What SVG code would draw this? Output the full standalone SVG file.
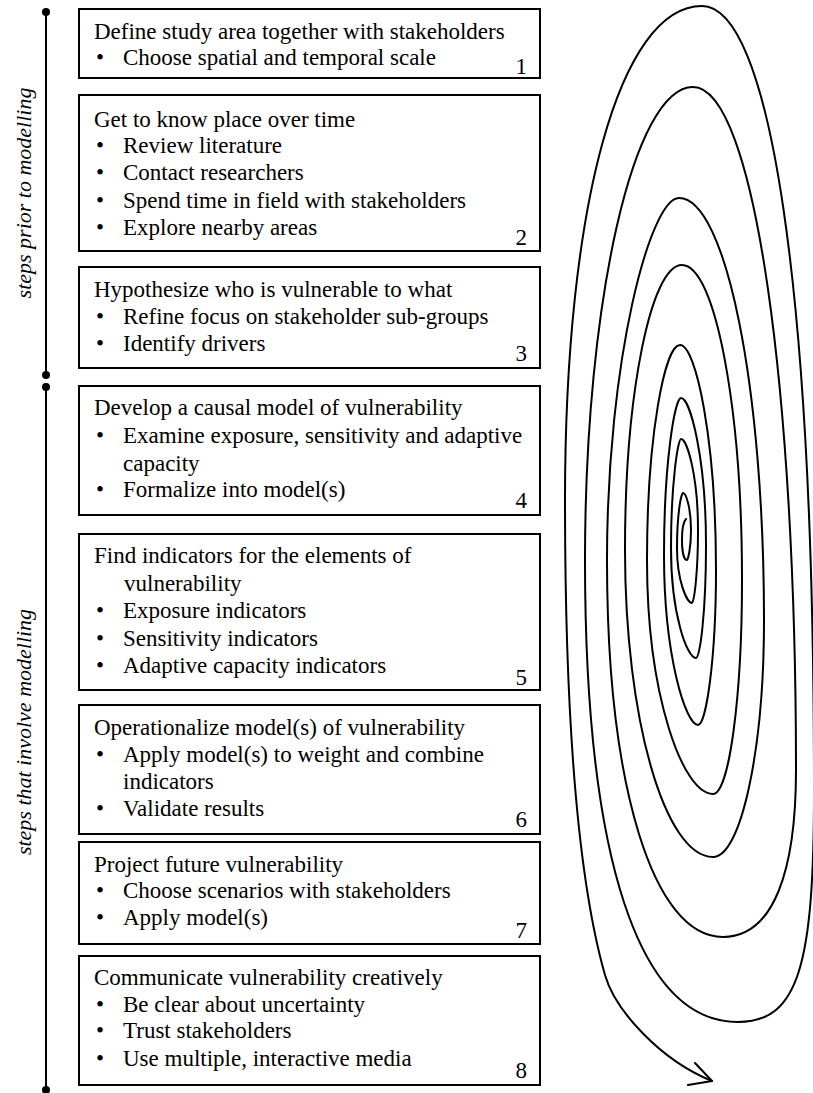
<svg xmlns="http://www.w3.org/2000/svg" width="813" height="1093" viewBox="0 0 813 1093">
<style>
.box{fill:#fff;stroke:#000;stroke-width:2}
.t{font-family:"Liberation Serif","Times New Roman",serif;font-size:23px;fill:#000}
.n{text-anchor:end}
.lbl{font-family:"Liberation Serif","Times New Roman",serif;font-style:italic;font-size:22px;text-anchor:middle;fill:#000}
.sp{fill:none;stroke:#000;stroke-width:2;stroke-linecap:round;stroke-linejoin:round}
.ax{stroke:#000;stroke-width:2}
</style>
<rect width="813" height="1093" fill="#fff"/>
<g id="phases">
<line class="ax" x1="46" y1="12" x2="46" y2="375"/>
<circle cx="46" cy="12" r="4"/><circle cx="46" cy="375" r="4"/>
<line class="ax" x1="46" y1="387" x2="46" y2="1090"/>
<circle cx="46" cy="387" r="4"/><circle cx="46" cy="1090" r="4"/>
<text class="lbl" transform="translate(31,193) rotate(-90)">steps prior to modelling</text>
<text class="lbl" transform="translate(31,732) rotate(-90)">steps that involve modelling</text>
</g>
<g id="step1">
<rect class="box" x="79" y="9" width="461" height="69"/>
<text class="t" x="94" y="39">Define study area together with stakeholders</text>
<text class="t" x="96" y="65">•</text><text class="t" x="123" y="65">Choose spatial and temporal scale</text>
<text class="t n" x="527" y="74">1</text>
</g>
<g id="step2">
<rect class="box" x="79" y="95" width="461" height="156"/>
<text class="t" x="94" y="127">Get to know place over time</text>
<text class="t" x="96" y="153">•</text><text class="t" x="123" y="153">Review literature</text>
<text class="t" x="96" y="180">•</text><text class="t" x="123" y="180">Contact researchers</text>
<text class="t" x="96" y="208">•</text><text class="t" x="123" y="208">Spend time in field with stakeholders</text>
<text class="t" x="96" y="235">•</text><text class="t" x="123" y="235">Explore nearby areas</text>
<text class="t n" x="527" y="245">2</text>
</g>
<g id="step3">
<rect class="box" x="79" y="267" width="461" height="101"/>
<text class="t" x="94" y="297">Hypothesize who is vulnerable to what</text>
<text class="t" x="96" y="324">•</text><text class="t" x="123" y="324">Refine focus on stakeholder sub-groups</text>
<text class="t" x="96" y="351">•</text><text class="t" x="123" y="351">Identify drivers</text>
<text class="t n" x="527" y="361">3</text>
</g>
<g id="step4">
<rect class="box" x="79" y="386" width="461" height="129"/>
<text class="t" x="94" y="415">Develop a causal model of vulnerability</text>
<text class="t" x="96" y="443">•</text><text class="t" x="123" y="443">Examine exposure, sensitivity and adaptive</text>
<text class="t" x="123" y="471">capacity</text>
<text class="t" x="96" y="497">•</text><text class="t" x="123" y="497">Formalize into model(s)</text>
<text class="t n" x="527" y="508">4</text>
</g>
<g id="step5">
<rect class="box" x="79" y="534" width="461" height="156"/>
<text class="t" x="94" y="563">Find indicators for the elements of</text>
<text class="t" x="124" y="591">vulnerability</text>
<text class="t" x="96" y="618">•</text><text class="t" x="123" y="618">Exposure indicators</text>
<text class="t" x="96" y="646">•</text><text class="t" x="123" y="646">Sensitivity indicators</text>
<text class="t" x="96" y="673">•</text><text class="t" x="123" y="673">Adaptive capacity indicators</text>
<text class="t n" x="527" y="685">5</text>
</g>
<g id="step6">
<rect class="box" x="79" y="705" width="461" height="129"/>
<text class="t" x="94" y="735">Operationalize model(s) of vulnerability</text>
<text class="t" x="96" y="762">•</text><text class="t" x="123" y="762">Apply model(s) to weight and combine</text>
<text class="t" x="123" y="789">indicators</text>
<text class="t" x="96" y="816">•</text><text class="t" x="123" y="816">Validate results</text>
<text class="t n" x="527" y="827">6</text>
</g>
<g id="step7">
<rect class="box" x="79" y="842" width="461" height="102"/>
<text class="t" x="94" y="872">Project future vulnerability</text>
<text class="t" x="96" y="898">•</text><text class="t" x="123" y="898">Choose scenarios with stakeholders</text>
<text class="t" x="96" y="925">•</text><text class="t" x="123" y="925">Apply model(s)</text>
<text class="t n" x="527" y="938">7</text>
</g>
<g id="step8">
<rect class="box" x="79" y="956" width="461" height="129"/>
<text class="t" x="94" y="985">Communicate vulnerability creatively</text>
<text class="t" x="96" y="1012">•</text><text class="t" x="123" y="1012">Be clear about uncertainty</text>
<text class="t" x="96" y="1038">•</text><text class="t" x="123" y="1038">Trust stakeholders</text>
<text class="t" x="96" y="1066">•</text><text class="t" x="123" y="1066">Use multiple, interactive media</text>
<text class="t n" x="527" y="1078">8</text>
</g>
<g id="connectors">
<path class="sp" d="M 686,519 C 683,522 682,530 682,540 C 682,552 684,560 687,560 C 688,560 691,548 691,530 C 691,508 686,493 683,493 C 681,493 677,515 677,548 C 677,581 687,603 692,603 C 694,603 698,574 698,530 C 698,475 687,439 681,439 C 678,439 671,483 671,548 C 671,614 687,658 696,658 C 700,658 706,613 706,545 C 706,457 690,398 681,398 C 675,398 664,461 664,555 C 664,657 686,725 698,725 C 706,725 716,660 716,570 C 716,440 696,345 680,345 C 665,345 647,435 647,560 C 647,696 683,794 713,794 C 729,794 742,698 742,580 C 742,407 715,265 682,265 C 651,265 625,393 625,550 C 625,719 665,857 713,857 C 741,857 764,750 764,620 C 764,388 726,198 679,198 C 650,198 607,361 607,560 C 607,786 653,937 723,937 C 774,937 796,870 796,770 C 796,394 755,87 693,87 C 634,87 585,300 585,560 C 585,860 639,1022 738,1022 C 799,1022 814,964 814,790 C 814,280 769,6 702,6 C 620,6 565,204 565,500 C 565,690 575,870 605,975 C 615,1010 660,1060 712,1081"/>
<path class="sp" d="M 695,1063 L 712,1081 L 688,1085"/>
</g>
</svg>
